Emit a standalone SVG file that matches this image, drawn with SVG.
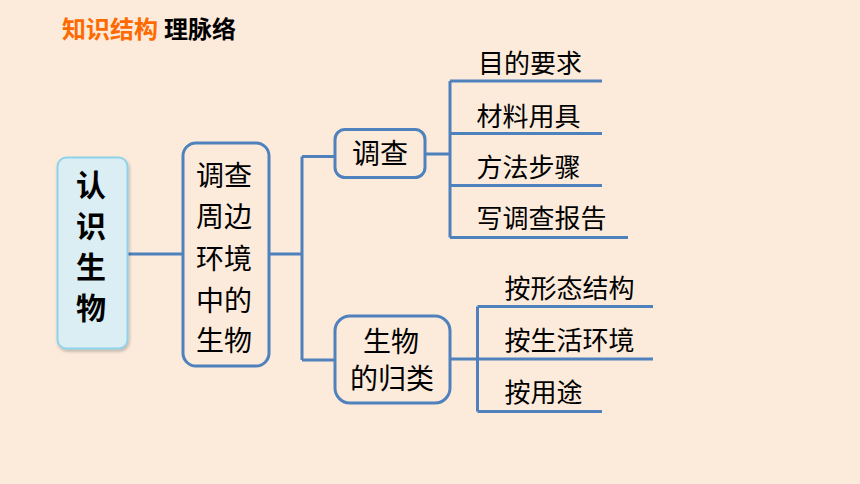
<svg xmlns="http://www.w3.org/2000/svg" width="860" height="484" viewBox="0 0 860 484">
<defs>
<style>
.t{font-family:"Noto Sans CJK SC","Noto Sans",sans-serif;fill:#000}
.lbl{font-size:26px}
.nd{font-size:28px}
.ln{fill:none;stroke:#4F81BD;stroke-width:3}
.box{fill:none;stroke:#4F81BD;stroke-width:3}
</style>
<filter id="sh" x="-20%" y="-10%" width="140%" height="130%">
<feDropShadow dx="1" dy="2" stdDeviation="1.5" flood-color="#000" flood-opacity="0.25"/>
</filter>
</defs>
<rect width="860" height="484" fill="#FCEBDB"/>
<g id="title">
<text class="t" x="62" y="37.5" font-size="24" font-weight="bold" style="fill:#FF6A00">知识结构</text>
<text class="t" x="164" y="37.5" font-size="24" font-weight="bold">理脉络</text>
</g>
<g id="connectors">
<path class="ln" d="M127 254H183"/>
<path class="ln" d="M269 254H302M302 156.5V360M302 156.5H335M302 360H335"/>
<path class="ln" d="M425 154H450M450 81V237.5M450 81H602M450 133.5H602M450 185.5H602M450 237.5H628"/>
<path class="ln" d="M450 359H477.5M477.5 306.5V411.5M477.5 306.5H653M477.5 359H653M477.5 411.5H602"/>
</g>
<g id="root">
<rect x="57.5" y="157.5" width="70" height="191" rx="9" fill="#DAEEF3" stroke="#8FD3EA" stroke-width="2" filter="url(#sh)"/>
<g class="t" font-size="30" font-weight="bold" text-anchor="middle">
<text x="91" y="196">认</text>
<text x="91" y="237">识</text>
<text x="91" y="278">生</text>
<text x="91" y="319">物</text>
</g>
</g>
<g id="n-survey-env">
<rect class="box" x="183" y="143" width="86" height="223" rx="13"/>
<g class="t nd" text-anchor="middle">
<text x="224" y="185.5">调查</text>
<text x="224" y="226.5">周边</text>
<text x="224" y="268.5">环境</text>
<text x="224" y="310.5">中的</text>
<text x="224" y="350.5">生物</text>
</g>
</g>
<g id="n-survey">
<rect class="box" x="335" y="129.5" width="90" height="48" rx="10"/>
<text class="t nd" x="380" y="163.5" text-anchor="middle">调查</text>
</g>
<g id="n-classify">
<rect class="box" x="335" y="316" width="115" height="87" rx="15"/>
<text class="t nd" x="391" y="352" text-anchor="middle">生物</text>
<text class="t nd" x="392" y="388.5" text-anchor="middle">的归类</text>
</g>
<g id="survey-items" class="t lbl">
<text x="478" y="73">目的要求</text>
<text x="476.5" y="126">材料用具</text>
<text x="476.5" y="177">方法步骤</text>
<text x="476.5" y="228">写调查报告</text>
</g>
<g id="classify-items" class="t lbl">
<text x="504.5" y="298">按形态结构</text>
<text x="504.5" y="350">按生活环境</text>
<text x="504.5" y="401.5">按用途</text>
</g>
</svg>
